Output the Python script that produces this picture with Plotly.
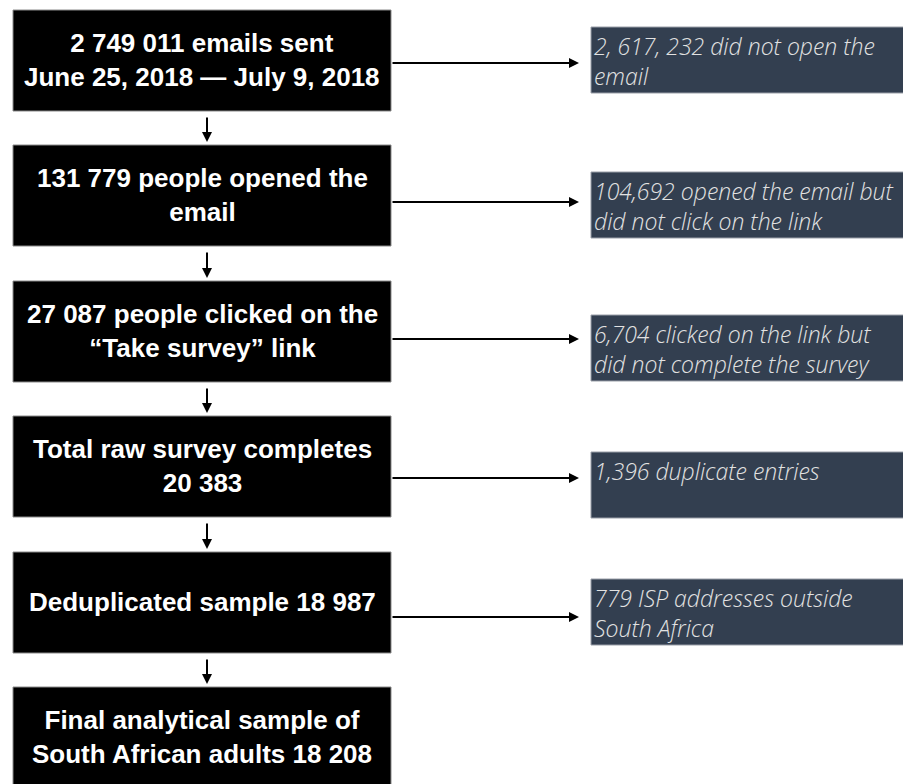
import plotly.graph_objects as go

# Passos do fluxo (caixas pretas) e exclusões (caixas laterais)
steps = [
    "2 749 011 emails sent<br>June 25, 2018 — July 9, 2018",
    "131 779 people opened the<br>email",
    "27 087 people clicked on the<br>“Take survey” link",
    "Total raw survey completes<br>20 383",
    "Deduplicated sample 18 987",
    "Final analytical sample of<br>South African adults 18 208",
]
exclusions = [
    "2, 617, 232 did not open the<br>email",
    "104,692 opened the email but<br>did not click on the link",
    "6,704 clicked on the link but<br>did not complete the survey",
    "1,396 duplicate entries",
    "779 ISP addresses outside<br>South Africa",
]

# layout (pixels)
main_top = [10, 145, 281, 416, 552, 687]
main_h = 101
main_x0, main_x1 = 13, 391
side_top = [27, 172, 315, 452, 579]
side_h = 66
side_x0, side_x1 = 591, 910
arrow_y = [63, 202, 339, 478, 617]

fig = go.Figure()
shapes = []
annotations = []

for i, txt in enumerate(steps):
    y0 = main_top[i]
    shapes.append(dict(type="rect", xref="x", yref="y", x0=main_x0, x1=main_x1,
                       y0=y0, y1=y0 + main_h, fillcolor="black",
                       line=dict(color="#8a8a8a", width=1), layer="below"))
    annotations.append(dict(x=(main_x0 + main_x1) / 2, y=y0 + main_h / 2 - 1, text=txt,
                            showarrow=False, xanchor="center", yanchor="middle",
                            font=dict(family="Liberation Sans, Arial, sans-serif", size=26,
                                      color="white", weight="bold")))
    if i < len(steps) - 1:
        # seta para baixo
        annotations.append(dict(x=207, y=main_top[i + 1] - 3, ax=207, ay=y0 + main_h + 5,
                                xref="x", yref="y", axref="x", ayref="y", text="",
                                showarrow=True, arrowhead=2, arrowsize=1, arrowwidth=2,
                                arrowcolor="black"))

for i, txt in enumerate(exclusions):
    y0 = side_top[i]
    shapes.append(dict(type="rect", xref="x", yref="y", x0=side_x0, x1=side_x1,
                       y0=y0, y1=y0 + side_h, fillcolor="#333f50",
                       line=dict(color="#9a9fa8", width=1), layer="below"))
    annotations.append(dict(x=side_x0 + 1, y=y0 + 1, text=txt, showarrow=False,
                            xanchor="left", yanchor="top", align="left",
                            font=dict(family="Open Sans", size=23, color="#e2e2e2",
                                      style="italic", weight=300)))
    # seta horizontal
    annotations.append(dict(x=side_x0 - 12, y=arrow_y[i], ax=main_x1, ay=arrow_y[i],
                            xref="x", yref="y", axref="x", ayref="y", text="",
                            showarrow=True, arrowhead=2, arrowsize=1, arrowwidth=2,
                            arrowcolor="black"))

fig.update_layout(
    width=903, height=784,
    margin=dict(l=0, r=0, t=0, b=0),
    paper_bgcolor="white", plot_bgcolor="white",
    xaxis=dict(range=[0, 903], visible=False, fixedrange=True),
    yaxis=dict(range=[784, 0], visible=False, fixedrange=True),
    shapes=shapes, annotations=annotations, showlegend=False,
)

# tirar a margem do body pra figura ficar no canto da janela
fig.write_html("out.html", config={"displayModeBar": False},
               post_script="document.body.style.margin='0px';")
